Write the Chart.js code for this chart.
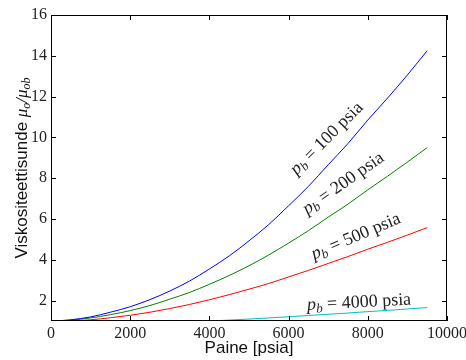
<!DOCTYPE html>
<html>
<head>
<meta charset="utf-8">
<script src="https://cdn.jsdelivr.net/npm/chart.js@4"></script>
<style>
  html, body { margin: 0; padding: 0; background: #fff; }
  #wrap { width: 466px; height: 360px; }
</style>
</head>
<body>
<div id="wrap"><canvas id="chart" width="466" height="360"></canvas></div>
<script>
// pressure [psia] and viscosity ratio, one pair per curve
const pressurePb100 = [100, 500, 1000, 1500, 2000, 2500, 3000, 3500, 4000, 4500, 5000, 5500, 6000, 6500, 7000, 7500, 8000, 8500, 9000, 9500];
const ratioPb100 = [1.0, 1.06, 1.2, 1.43, 1.7, 2.05, 2.47, 2.96, 3.55, 4.19, 4.93, 5.73, 6.65, 7.6, 8.66, 9.7, 10.85, 11.93, 13.06, 14.25];

const pressurePb200 = [200, 500, 1000, 1500, 2000, 2500, 3000, 3500, 4000, 4500, 5000, 5500, 6000, 6500, 7000, 7500, 8000, 8500, 9000, 9500];
const ratioPb200 = [1.0, 1.04, 1.15, 1.31, 1.51, 1.76, 2.07, 2.4, 2.8, 3.23, 3.71, 4.24, 4.82, 5.43, 6.09, 6.73, 7.43, 8.1, 8.79, 9.5];

const pressurePb500 = [500, 1000, 1500, 2000, 2500, 3000, 3500, 4000, 4500, 5000, 5500, 6000, 6500, 7000, 7500, 8000, 8500, 9000, 9500];
const ratioPb500 = [1.0, 1.06, 1.16, 1.28, 1.43, 1.61, 1.81, 2.04, 2.29, 2.56, 2.84, 3.16, 3.48, 3.82, 4.16, 4.52, 4.86, 5.21, 5.58];

const pressurePb4000 = [4000, 4500, 5000, 5500, 6000, 6500, 7000, 7500, 8000, 8500, 9000, 9500];
const ratioPb4000 = [1.0, 1.045, 1.095, 1.15, 1.21, 1.27, 1.33, 1.39, 1.46, 1.52, 1.59, 1.66];

const xTicks = [0, 2000, 4000, 6000, 8000, 10000];
const yTicks = [2, 4, 6, 8, 10, 12, 14, 16];

// curve labels: text, anchor in data units, rotation in degrees
const curveLabels = [
  { pb: '100', x: 6960, y: 9.95, angle: -45 },
  { pb: '200', x: 7380, y: 7.75, angle: -35 },
  { pb: '500', x: 7700, y: 5.15, angle: -23 },
  { pb: '4000', x: 7780, y: 1.92, angle: -3 }
];

const SERIF = '"Liberation Serif", "DejaVu Serif", serif';
const SANS = '"Liberation Sans", Arial, sans-serif';

function toPoints(xs, ys) {
  return xs.map((x, i) => ({ x: x, y: ys[i] }));
}

// draw a run of text pieces with mixed fonts, centred on 0
function drawRich(ctx, parts, baseY) {
  let total = 0;
  parts.forEach(p => { ctx.font = p.font; total += ctx.measureText(p.t).width; });
  let x = -total / 2;
  parts.forEach(p => {
    ctx.font = p.font;
    ctx.fillText(p.t, x, baseY + (p.dy || 0));
    x += ctx.measureText(p.t).width;
  });
}

const framePlugin = {
  id: 'frame',
  afterDraw(chart) {
    const ctx = chart.ctx;
    const a = chart.chartArea;
    const xs = chart.scales.x, ys = chart.scales.y;
    ctx.save();
    ctx.strokeStyle = '#000';
    ctx.lineWidth = 1;
    ctx.strokeRect(a.left + 0.5, a.top + 0.5, a.right - a.left - 1, a.bottom - a.top - 1);
    ctx.beginPath();
    xTicks.forEach(v => {
      const px = Math.round(xs.getPixelForValue(v)) + 0.5;
      ctx.moveTo(px, a.bottom); ctx.lineTo(px, a.bottom - 5);
      ctx.moveTo(px, a.top); ctx.lineTo(px, a.top + 5);
    });
    yTicks.forEach(v => {
      const py = Math.round(ys.getPixelForValue(v)) + 0.5;
      ctx.moveTo(a.left, py); ctx.lineTo(a.left + 5, py);
      ctx.moveTo(a.right, py); ctx.lineTo(a.right - 5, py);
    });
    ctx.stroke();

    ctx.fillStyle = '#111';
    ctx.textBaseline = 'alphabetic';
    // x title
    ctx.font = '17px ' + SANS;
    ctx.textAlign = 'center';
    ctx.fillText('Paine [psia]', (a.left + a.right) / 2, 353);
    ctx.textAlign = 'left';

    // y title
    ctx.save();
    ctx.translate(21, (a.top + a.bottom) / 2);
    ctx.rotate(-Math.PI / 2);
    drawRich(ctx, [
      { t: 'Viskositeettisunde ', font: '17px ' + SANS },
      { t: 'μ', font: 'italic 17px ' + SERIF },
      { t: 'o', font: 'italic 12px ' + SERIF, dy: 3 },
      { t: '/', font: 'italic 17px ' + SERIF },
      { t: 'μ', font: 'italic 17px ' + SERIF },
      { t: 'ob', font: 'italic 12px ' + SERIF, dy: 3 }
    ], 6);
    ctx.restore();

    // curve labels
    ctx.fillStyle = '#222';
    curveLabels.forEach(l => {
      ctx.save();
      ctx.translate(xs.getPixelForValue(l.x), ys.getPixelForValue(l.y));
      ctx.rotate(l.angle * Math.PI / 180);
      drawRich(ctx, [
        { t: 'p', font: 'italic 18px ' + SERIF },
        { t: 'b', font: 'italic 13px ' + SERIF, dy: 3 },
        { t: ' = ' + l.pb + ' psia', font: '18px ' + SERIF }
      ], 5);
      ctx.restore();
    });
    ctx.restore();
  }
};

function line(xs, ys, color) {
  return {
    data: toPoints(xs, ys),
    borderColor: color,
    borderWidth: 1,
    pointRadius: 0,
    fill: false,
    cubicInterpolationMode: 'monotone'
  };
}

new Chart(document.getElementById('chart'), {
  type: 'line',
  data: {
    datasets: [
      line(pressurePb100, ratioPb100, '#0000ff'),
      line(pressurePb200, ratioPb200, '#008000'),
      line(pressurePb500, ratioPb500, '#ff0000'),
      line(pressurePb4000, ratioPb4000, '#00bfbf')
    ]
  },
  options: {
    responsive: false,
    devicePixelRatio: 1,
    animation: false,
    layout: { padding: { top: 15, right: 19, left: 0, bottom: 0 } },
    plugins: {
      legend: { display: false },
      tooltip: { enabled: false }
    },
    scales: {
      x: {
        type: 'linear',
        min: 0,
        max: 10000,
        grid: { display: false, drawTicks: false },
        border: { display: false },
        afterBuildTicks: s => { s.ticks = xTicks.map(v => ({ value: v })); },
        afterFit: s => { s.height = 39; s.paddingLeft = 0; s.paddingRight = 0; },
        ticks: {
          font: { family: SERIF, size: 16 },
          color: '#222',
          padding: 3,
          maxRotation: 0,
          autoSkip: false,
          callback: v => String(v)
        }
      },
      y: {
        min: 1,
        max: 16,
        grid: { display: false, drawTicks: false },
        border: { display: false },
        afterBuildTicks: s => { s.ticks = yTicks.map(v => ({ value: v })); },
        afterFit: s => { s.width = 51; s.paddingTop = 0; s.paddingBottom = 0; },
        ticks: {
          font: { family: SERIF, size: 16 },
          color: '#222',
          padding: 4,
          autoSkip: false,
          callback: v => String(v)
        }
      }
    }
  },
  plugins: [framePlugin]
});
</script>
</body>
</html>
